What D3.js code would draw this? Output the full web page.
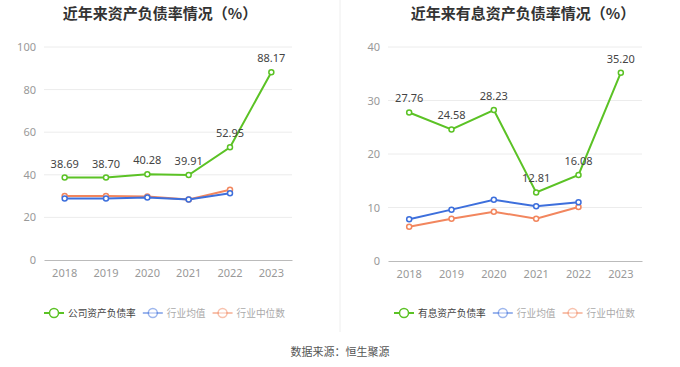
<!DOCTYPE html>
<html>
<head>
<meta charset="utf-8">
<script src="https://cdn.jsdelivr.net/npm/d3@7"></script>
<style>
  body { margin: 0; background: #fff; font-family: "Noto Sans CJK SC", "Noto Sans", sans-serif; }
</style>
</head>
<body>
<script>
// 年份
let years = ["2018", "2019", "2020", "2021", "2022", "2023"];

// 左图：资产负债率
let companyDebt = [38.69, 38.70, 40.28, 39.91, 52.95, 88.17];
let industryAvgDebt = [28.9, 28.9, 29.4, 28.4, 31.3];
let industryMedDebt = [30.0, 30.0, 29.8, 28.4, 33.0];
let leftTicks = [0, 20, 40, 60, 80, 100];

// 右图：有息资产负债率
let companyIntDebt = [27.76, 24.58, 28.23, 12.81, 16.08, 35.20];
let industryAvgInt = [7.8, 9.6, 11.45, 10.25, 11.0];
let industryMedInt = [6.4, 7.9, 9.2, 7.9, 10.1];
let rightTicks = [0, 10, 20, 30, 40];

let GREEN = "#5bc225", BLUE = "#3d6fdc", ORANGE = "#f2865e";

let WIDTH = 680, HEIGHT = 367;

let svg = d3.select("body").append("svg")
    .attr("width", WIDTH)
    .attr("height", HEIGHT);

// 中间分隔线
svg.append("line")
    .attr("x1", 340).attr("x2", 340)
    .attr("y1", 0).attr("y2", 332)
    .attr("stroke", "#eeeeee");

function drawChart(opt) {
    let g = svg.append("g");

    g.append("text")
        .attr("x", opt.titleX).attr("y", 19)
        .attr("text-anchor", "middle")
        .attr("font-size", 15).attr("font-weight", "bold")
        .attr("fill", "#333")
        .text(opt.title);

    let x = d3.scaleBand().domain(years).range([opt.x0, opt.x1]);
    let y = d3.scaleLinear().domain([0, opt.ticks[opt.ticks.length - 1]]).range([opt.yBottom, opt.yTop]);

    // 网格线
    g.selectAll(".grid").data(opt.ticks.slice(1)).enter()
        .append("line")
        .attr("x1", opt.x0).attr("x2", opt.x1)
        .attr("y1", d => y(d)).attr("y2", d => y(d))
        .attr("stroke", "#ececec");

    // y 轴
    let yAxis = g.append("g")
        .attr("transform", `translate(${opt.x0 - 8},0)`)
        .call(d3.axisLeft(y).tickValues(opt.ticks).tickSize(0).tickPadding(0));
    yAxis.select(".domain").remove();
    yAxis.selectAll("text").attr("font-size", 11).attr("fill", "#999").attr("font-family", "Noto Sans, sans-serif");

    // x 轴
    let xAxis = g.append("g")
        .attr("transform", `translate(0,${opt.yBottom})`)
        .call(d3.axisBottom(x).tickSize(0).tickPadding(9));
    xAxis.select(".domain").attr("stroke", "#bbb");
    xAxis.selectAll("text").attr("font-size", 11).attr("fill", "#999").attr("font-family", "Noto Sans, sans-serif");

    let cx = (d, i) => x(years[i]) + x.bandwidth() / 2;
    let line = d3.line().x(cx).y(d => y(d));

    let series = [
        { data: opt.med, color: ORANGE },
        { data: opt.avg, color: BLUE },
        { data: opt.company, color: GREEN }
    ];

    series.forEach(s => {
        g.append("path")
            .datum(s.data)
            .attr("d", line)
            .attr("fill", "none")
            .attr("stroke", s.color)
            .attr("stroke-width", 2);
        g.selectAll(null).data(s.data).enter()
            .append("circle")
            .attr("cx", cx).attr("cy", d => y(d))
            .attr("r", 2.5)
            .attr("fill", "#fff")
            .attr("stroke", s.color)
            .attr("stroke-width", 1.5);
    });

    // 数据标签
    g.selectAll(".lbl").data(opt.company).enter()
        .append("text")
        .attr("x", cx).attr("y", d => y(d) - 10)
        .attr("text-anchor", "middle")
        .attr("font-size", 11).attr("fill", "#444")
        .attr("font-family", "Noto Sans, sans-serif")
        .text(d => d.toFixed(2));

    // 图例
    let legend = [
        { name: opt.name, color: GREEN, text: "#444", op: 1 },
        { name: "行业均值", color: BLUE, text: "#aaa", op: 0.5 },
        { name: "行业中位数", color: ORANGE, text: "#aaa", op: 0.5 }
    ];
    let lx = opt.legendX;
    legend.forEach(l => {
        let lg = g.append("g").attr("transform", `translate(${lx},313)`);
        lg.append("line").attr("x1", 0).attr("x2", 20).attr("y1", 0).attr("y2", 0)
            .attr("stroke", l.color).attr("stroke-width", 2).attr("opacity", l.op);
        lg.append("circle").attr("cx", 10).attr("cy", 0).attr("r", 4.5)
            .attr("fill", "#fff").attr("stroke", l.color).attr("stroke-width", 1.5).attr("opacity", l.op);
        let t = lg.append("text").attr("x", 24).attr("y", 3.5)
            .attr("font-size", 9.7).attr("fill", l.text)
            .text(l.name);
        lx += 24 + t.node().getComputedTextLength() + 7;
    });
}

drawChart({
    title: "近年来资产负债率情况（%）", titleX: 160,
    x0: 44, x1: 292, yTop: 47, yBottom: 260, ticks: leftTicks,
    company: companyDebt, avg: industryAvgDebt, med: industryMedDebt,
    name: "公司资产负债率", legendX: 44
});

drawChart({
    title: "近年来有息资产负债率情况（%）", titleX: 523,
    x0: 388, x1: 642, yTop: 47, yBottom: 261, ticks: rightTicks,
    company: companyIntDebt, avg: industryAvgInt, med: industryMedInt,
    name: "有息资产负债率", legendX: 394
});

// 数据来源
svg.append("text")
    .attr("x", 340).attr("y", 356)
    .attr("text-anchor", "middle")
    .attr("font-size", 11).attr("fill", "#555")
    .text("数据来源：恒生聚源");
</script>
</body>
</html>
